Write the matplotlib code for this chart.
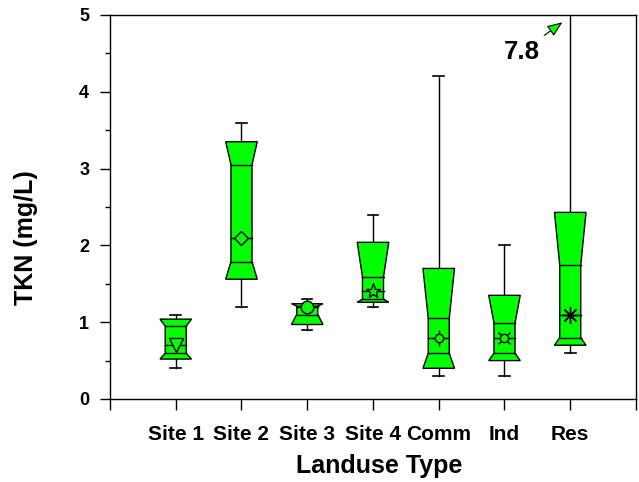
import matplotlib
matplotlib.use('Agg')
import matplotlib.pyplot as plt
from matplotlib.patches import Polygon
from matplotlib.ticker import MultipleLocator

plt.rcParams['font.family'] = ['Liberation Sans', 'DejaVu Sans']
plt.rcParams['font.weight'] = 'bold'

# TKN summary statistics per landuse type (mg/L)
categories = ['Site 1', 'Site 2', 'Site 3', 'Site 4', 'Comm', 'Ind', 'Res']
whisker_lo = [0.40, 1.20, 0.90, 1.20, 0.30, 0.30, 0.60]
notch_lo = [0.52, 1.56, 0.97, 1.26, 0.40, 0.50, 0.70]
q1 = [0.595, 1.79, 1.10, 1.30, 0.595, 0.595, 0.80]
median = [0.70, 2.10, 1.20, 1.40, 0.80, 0.80, 1.10]
q3 = [0.95, 3.05, 1.21, 1.59, 1.05, 0.99, 1.745]
notch_hi = [1.04, 3.35, 1.24, 2.04, 1.70, 1.35, 2.43]
whisker_hi = [1.10, 3.60, 1.30, 2.40, 4.20, 2.00, 7.80]

green = '#00ff00'
W, w, cap = 0.24, 0.16, 0.08

fig = plt.figure(figsize=(6.39, 4.82), dpi=100)
ax = fig.add_axes([0.1721, 0.1722, 0.8232, 0.7967])

for i in range(len(categories)):
    x = i + 1
    # whiskers and caps
    ax.plot([x, x], [whisker_lo[i], notch_lo[i]], color='black', lw=1, zorder=1)
    ax.plot([x, x], [notch_hi[i], whisker_hi[i]], color='black', lw=1, zorder=1)
    ax.plot([x - cap, x + cap], [whisker_lo[i]] * 2, color='black', lw=1.2, zorder=1)
    ax.plot([x - cap, x + cap], [whisker_hi[i]] * 2, color='black', lw=1.2, zorder=1)
    # flared notch box
    pts = [(x - W, notch_lo[i]), (x - w, q1[i]), (x - w, q3[i]), (x - W, notch_hi[i]),
           (x + W, notch_hi[i]), (x + w, q3[i]), (x + w, q1[i]), (x + W, notch_lo[i])]
    ax.add_patch(Polygon(pts, closed=True, facecolor=green, edgecolor='black', lw=1, zorder=2))
    for v in (q1[i], median[i], q3[i]):
        ax.plot([x - w, x + w], [v, v], color='black', lw=1, zorder=3)

# median markers
mk = dict(color='black', markerfacecolor=green, markeredgecolor='black', mew=1, zorder=4, ls='none')
ax.plot(1, median[0], marker='v', ms=10, **mk)
ax.plot(2, median[1], marker='D', ms=7, **mk)
ax.plot(3, median[2], marker='o', ms=9, **mk)
ax.plot(4, median[3], marker='*', ms=11, **mk)
ax.plot(5, median[4], marker='+', ms=11, **mk)
ax.plot(5, median[4], marker='o', ms=6, **mk)
ax.plot(6, median[5], marker='x', ms=9, **mk)
ax.plot(6, median[5], marker='o', ms=6, **mk)
ax.plot(7, median[6], marker=(8, 2, 0), ms=12, **mk)

ax.annotate('7.8', xy=(6.88, 4.905), xytext=(6.26, 4.52), fontsize=18.5, fontweight='bold',
            ha='center', va='center',
            arrowprops=dict(arrowstyle='-|>,head_length=0.5,head_width=0.2',
                            fc=green, ec='black', lw=0.8, shrinkA=2, shrinkB=0))

ax.set_xlim(0, 8)
ax.set_ylim(0, 5)
ax.set_xticks(range(0, 9))
ax.set_xticklabels([''] + categories + [''], fontsize=15, fontweight='bold')
ax.yaxis.set_major_locator(MultipleLocator(1))
ax.yaxis.set_minor_locator(MultipleLocator(0.5))
ax.tick_params(axis='x', direction='out', length=8, width=1, pad=11)
ax.tick_params(axis='y', which='major', direction='out', length=7, width=1, pad=8, labelsize=13)
ax.tick_params(axis='y', which='minor', direction='out', length=3.6, width=1)
for lbl in ax.get_yticklabels():
    lbl.set_fontweight('bold')
for s in ax.spines.values():
    s.set_linewidth(1)

ax.set_xlabel('Landuse Type', fontsize=18, fontweight='bold')
ax.set_ylabel('TKN (mg/L)', fontsize=18, fontweight='bold')
ax.xaxis.set_label_coords(0.511, -0.143)
ax.yaxis.set_label_coords(-0.137, 0.42)

fig.savefig('out.png', dpi=100)
